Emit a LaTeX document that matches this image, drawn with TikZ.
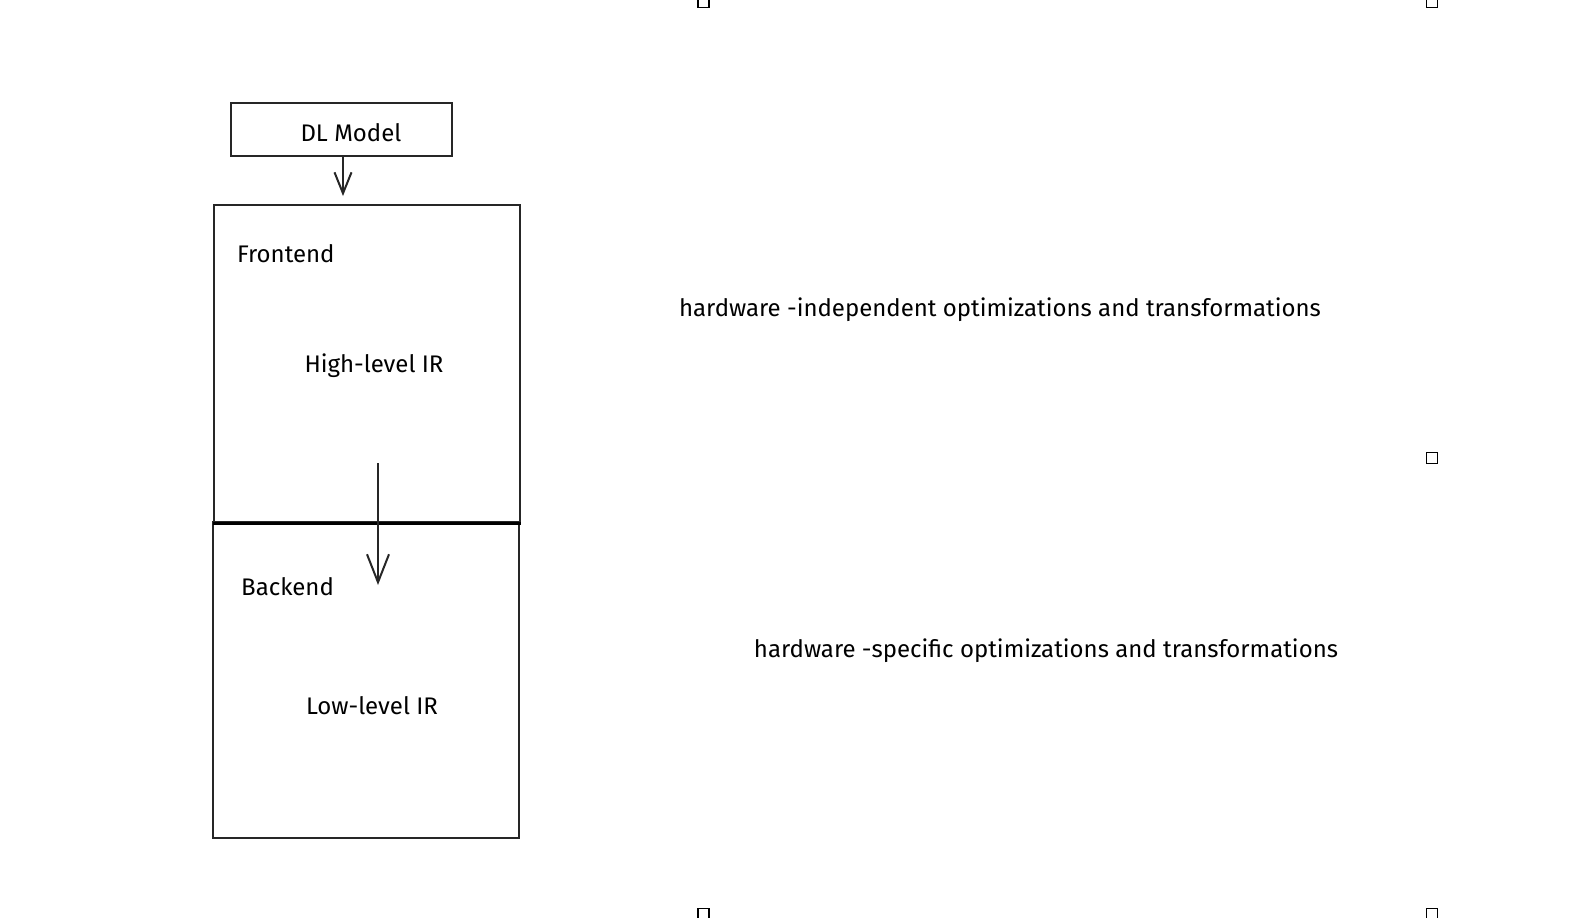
\documentclass[tikz,border=0pt]{standalone}
\usepackage{fontspec}
\setmainfont{Fira Sans}
\usetikzlibrary{arrows.meta}
\begin{document}
\begin{tikzpicture}[x=1pt,y=-1pt,
  sketch/.style={draw=black!85,line width=2.3pt},
  lbl/.style={font=\fontsize{24}{28}\selectfont,inner sep=0pt},
  handle/.style={draw=black,line width=1.4pt,fill=white,minimum size=11pt,inner sep=0pt},
  arr/.style 2 args={draw=black!85,line width=2pt,-{Straight Barb[length=#1,width=#2,line width=2pt]}}]
\useasboundingbox[fill=white] (0,0) rectangle (1574,918);
% boxes
\node[sketch,minimum width=221pt,minimum height=53pt,anchor=north west] (dl) at (230,102) {};
\node[lbl] (dltext) at (351,133) {DL Model};
\node[sketch,minimum width=306pt,minimum height=317pt,anchor=north west] (front) at (213,204) {};
\node[sketch,minimum width=306pt,minimum height=316pt,anchor=north west] (back) at (212,521) {};
\draw[line width=3.4pt] (front.south west) -- (front.south east);
% labels
\node[lbl,anchor=west] (fe) at (237,254) {Frontend};
\node[lbl] (hir) at (374,366) {High-level IR};
\node[lbl,anchor=west] (be) at (241,587) {Backend};
\node[lbl] (lir) at (372,706) {Low-level IR};
\node[lbl] (hi) at (1000,310) {hardware -independent optimizations and transformations};
\node[lbl] (hs) at (1046,651) {hardware -specific optimizations and transformations};
% arrows
\coordinate (a1) at (343,155);
\coordinate (a2) at (343,196);
\draw[arr={21pt}{17pt}] (a1) -- (a2);
\coordinate (b1) at (378,463);
\coordinate (b2) at (378,585);
\draw[arr={28pt}{22pt}] (b1) -- (b2);
% selection handles
\node[handle] (h1) at (703.5,2) {};
\node[handle] (h2) at (1432,2) {};
\node[handle] (h3) at (1432,458) {};
\node[handle] (h4) at (703.5,914) {};
\node[handle] (h5) at (1432,914) {};
\end{tikzpicture}
\end{document}
